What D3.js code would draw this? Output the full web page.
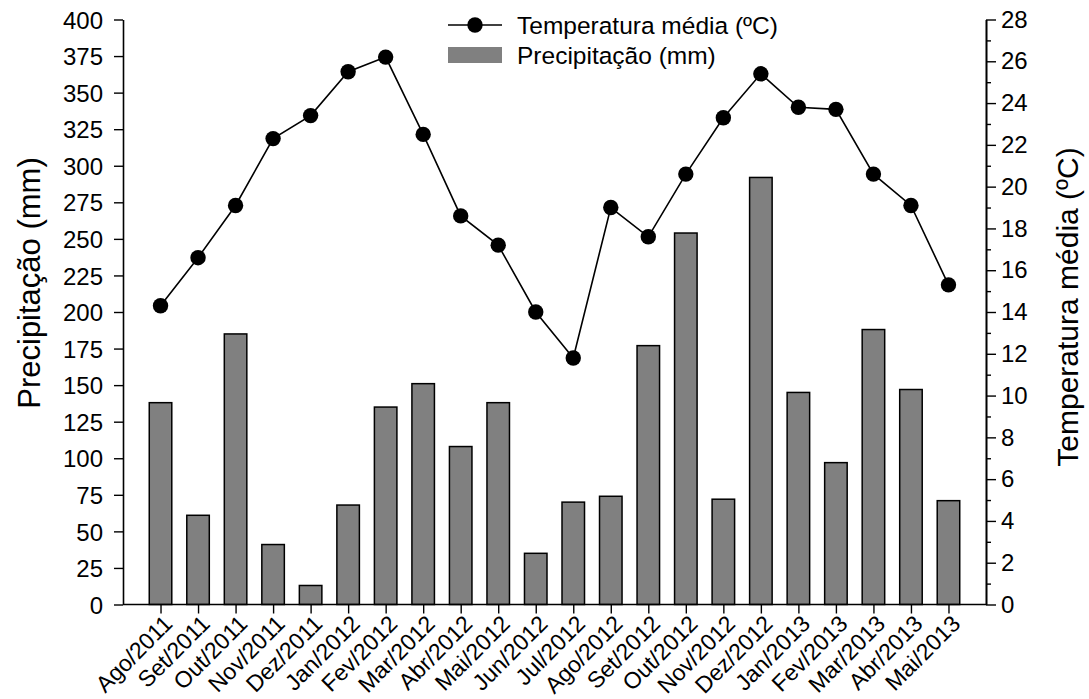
<!DOCTYPE html>
<html>
<head>
<meta charset="utf-8">
<script src="https://cdn.jsdelivr.net/npm/d3@7"></script>
<style>
  html, body { margin: 0; padding: 0; background: #fff; }
  svg { display: block; font-family: "Liberation Sans", Arial, Helvetica, sans-serif; }
</style>
</head>
<body>
<svg id="chart" width="1089" height="699"></svg>
<script>
// Monthly categories
const months = ["Ago/2011","Set/2011","Out/2011","Nov/2011","Dez/2011","Jan/2012","Fev/2012","Mar/2012",
  "Abr/2012","Mai/2012","Jun/2012","Jul/2012","Ago/2012","Set/2012","Out/2012","Nov/2012","Dez/2012",
  "Jan/2013","Fev/2013","Mar/2013","Abr/2013","Mai/2013"];

// Monthly rainfall (mm)
const precipitation = [138, 61, 185, 41, 13, 68, 135, 151, 108, 138, 35, 70,
  74, 177, 254, 72, 292, 145, 97, 188, 147, 71];

// Mean monthly temperature (ºC)
const temperature = [14.3, 16.6, 19.1, 22.3, 23.4, 25.5, 26.2, 22.5, 18.6, 17.2, 14.0, 11.8,
  19.0, 17.6, 20.6, 23.3, 25.4, 23.8, 23.7, 20.6, 19.1, 15.3];

// Axis ticks
const precipTicks = d3.range(0, 401, 25);
const tempTicks = d3.range(0, 29, 2);
const tempMinorTicks = d3.range(1, 28, 2);

const svg = d3.select("#chart");
const plot = { left: 123, right: 986, top: 19.5, bottom: 604.5 };

const x = d3.scalePoint().domain(months).range([plot.left, plot.right]).padding(1);
const yP = d3.scaleLinear().domain([0, 400]).range([plot.bottom, plot.top]);
const yT = d3.scaleLinear().domain([0, 28]).range([plot.bottom, plot.top]);
const barW = x.step() * 0.6;

// Bars: precipitation
svg.append("g").selectAll("rect").data(months).join("rect")
  .attr("x", d => x(d) - barW / 2)
  .attr("y", (d, i) => yP(precipitation[i]))
  .attr("width", barW)
  .attr("height", (d, i) => yP(0) - yP(precipitation[i]))
  .attr("fill", "#808080")
  .attr("stroke", "#000")
  .attr("stroke-width", 1.5);

// Line + markers: temperature
const line = d3.line().x((d, i) => x(months[i])).y(d => yT(d));
svg.append("path").datum(temperature)
  .attr("d", line).attr("fill", "none").attr("stroke", "#000").attr("stroke-width", 1.6);
svg.append("g").selectAll("circle").data(temperature).join("circle")
  .attr("cx", (d, i) => x(months[i])).attr("cy", d => yT(d)).attr("r", 7.7).attr("fill", "#000");

// Axes
function styleAxis(g) {
  g.selectAll(".domain").attr("stroke", "#000").attr("stroke-width", 1.6);
  g.selectAll(".tick line").attr("stroke", "#000").attr("stroke-width", 1.4);
  g.selectAll(".tick text").attr("fill", "#000").style("font-size", "24px");
}

const leftAxis = svg.append("g").attr("transform", `translate(${plot.left},0)`)
  .call(d3.axisLeft(yP).tickValues(precipTicks).tickSize(9).tickSizeOuter(0).tickPadding(11))
  .call(styleAxis);
leftAxis.selectAll(".tick text").attr("dy", "0.36em");

svg.append("g").attr("transform", `translate(${plot.right},0)`)
  .call(d3.axisRight(yT).tickValues(tempMinorTicks).tickSize(5).tickSizeOuter(0).tickFormat(""))
  .call(styleAxis);
svg.append("g").attr("transform", `translate(${plot.right},0)`)
  .call(d3.axisRight(yT).tickValues(tempTicks).tickSize(10).tickSizeOuter(0).tickPadding(5))
  .call(styleAxis);

const bottomAxis = svg.append("g").attr("transform", `translate(0,${plot.bottom})`)
  .call(d3.axisBottom(x).tickSize(9).tickSizeOuter(0))
  .call(styleAxis);
bottomAxis.select(".domain").attr("d", `M${plot.left},0H${plot.right}`);
bottomAxis.selectAll(".tick text")
  .style("font-size", "23px")
  .attr("text-anchor", "end")
  .attr("transform", "translate(7,15) rotate(-45)")
  .attr("dy", "0.35em")
  .attr("y", 0).attr("x", 0);

// Axis titles
svg.append("text")
  .attr("transform", "translate(40,283) rotate(-90)")
  .attr("text-anchor", "middle").style("font-size", "31px").text("Precipitação (mm)");
svg.append("text")
  .attr("transform", "translate(1078,307) rotate(-90)")
  .attr("text-anchor", "middle").style("font-size", "30px").text("Temperatura média (ºC)");

// Legend
const lg = svg.append("g");
lg.append("line").attr("x1", 448).attr("x2", 502).attr("y1", 25).attr("y2", 25)
  .attr("stroke", "#000").attr("stroke-width", 1.6);
lg.append("circle").attr("cx", 475).attr("cy", 25).attr("r", 7.7).attr("fill", "#000");
lg.append("text").attr("x", 517).attr("y", 25).attr("dy", "0.35em")
  .style("font-size", "24.5px").text("Temperatura média (ºC)");
lg.append("rect").attr("x", 448).attr("y", 47).attr("width", 54).attr("height", 16).attr("fill", "#808080");
lg.append("text").attr("x", 517).attr("y", 55).attr("dy", "0.35em")
  .style("font-size", "24.5px").text("Precipitação (mm)");
</script>
</body>
</html>
